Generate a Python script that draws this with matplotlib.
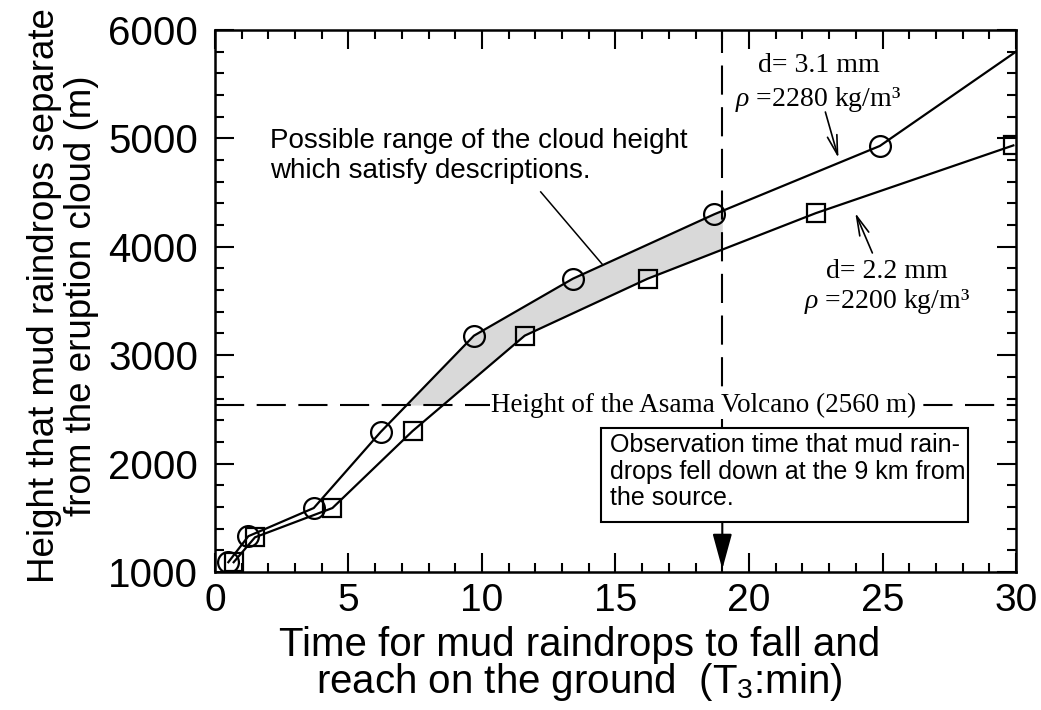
import numpy as np
import matplotlib.pyplot as plt
from matplotlib.patches import Rectangle

plt.rcParams['font.family'] = ['Liberation Sans', 'DejaVu Sans']
plt.rcParams['mathtext.fontset'] = 'custom'
plt.rcParams['mathtext.rm'] = 'Liberation Sans'
plt.rcParams['mathtext.it'] = 'Liberation Serif:italic'

# d = 3.1 mm, rho = 2280 kg/m3 (circles); last point is the line end, no marker
circle_t = [0.5, 1.25, 3.7, 6.2, 9.7, 13.4, 18.7, 24.9, 30.0]
circle_h = [1090, 1330, 1590, 2290, 3180, 3705, 4300, 4930, 5800]

# d = 2.2 mm, rho = 2200 kg/m3 (squares)
square_t = [0.7, 1.5, 4.4, 7.4, 11.6, 16.2, 22.5, 29.9]
square_h = [1090, 1320, 1590, 2300, 3180, 3705, 4310, 4935]

asama_h = 2540      # drawn height of the Asama Volcano line
obs_time = 19.0     # observation time (min)

SERIF = ['Liberation Serif', 'DejaVu Serif']

fig = plt.figure(figsize=(10.41, 7.10), dpi=100)
ax = fig.add_axes([0.2065, 0.1944, 0.7695, 0.7634])
ax.set_xlim(0, 30)
ax.set_ylim(1000, 6000)

# shaded range between the curves, above the volcano and before the observation time
tt = np.linspace(0, obs_time, 400)
upper = np.interp(tt, circle_t, circle_h)
lower = np.maximum(np.interp(tt, square_t, square_h), asama_h)
ax.fill_between(tt, lower, upper, where=upper > lower, color='#d9d9d9', lw=0, zorder=1)

ax.plot(circle_t, circle_h, color='k', lw=1.6, marker='o', ms=15, mfc='none',
        mec='k', mew=1.6, markevery=list(range(len(circle_t) - 1)), zorder=3)
ax.plot(square_t, square_h, color='k', lw=1.6, marker='s', ms=13, mfc='none',
        mec='k', mew=1.6, zorder=3)

# dashed reference lines
ax.plot([0, 30], [asama_h, asama_h], color='k', lw=1.5, dashes=(14, 6), zorder=2)
ax.plot([obs_time, obs_time], [2328, 6000], color='k', lw=1.5, dashes=(14, 6), zorder=2)
ax.text(18.3, asama_h, 'Height of the Asama Volcano (2560 m)', family=SERIF, fontsize=19.5,
        ha='center', va='center', zorder=4,
        bbox=dict(facecolor='white', edgecolor='none', pad=1))

# observation box with arrow to the axis
ax.add_patch(Rectangle((14.45, 1460), 13.75, 868, facecolor='white', edgecolor='k',
                       lw=1.5, zorder=5))
ax.text(14.8, 2285, 'Observation time that mud rain-\ndrops fell down at the 9 km from\nthe source.',
        fontsize=18, ha='left', va='top', linespacing=1.15, zorder=6)
ax.annotate('', xy=(obs_time, 1025), xytext=(obs_time, 1460),
            arrowprops=dict(arrowstyle='-|>,head_length=2.2,head_width=0.6', color='k',
                            lw=1.5, shrinkA=0, shrinkB=0, mutation_scale=10), zorder=6)

# range note
ax.text(2.05, 5095, 'Possible range of the cloud height\nwhich satisfy descriptions.',
        fontsize=20, ha='left', va='top', linespacing=1.2)
ax.plot([12.2, 14.5], [4506, 3840], color='k', lw=1.1)

# curve labels
ax.text(22.6, 5613, 'd= 3.1 mm', family=SERIF, fontsize=20, ha='center', va='baseline')
ax.text(22.6, 5300, r'$\rho$ =2280 kg/m³', family=SERIF, fontsize=20, ha='center', va='baseline')
ax.annotate('', xy=(23.35, 4819), xytext=(22.86, 5243),
            arrowprops=dict(arrowstyle='->,head_length=1.4,head_width=0.35', color='k',
                            lw=1.2, shrinkA=0, shrinkB=0, mutation_scale=10))
ax.text(25.15, 3712, 'd= 2.2 mm', family=SERIF, fontsize=20, ha='center', va='baseline')
ax.text(25.15, 3435, r'$\rho$ =2200 kg/m³', family=SERIF, fontsize=20, ha='center', va='baseline')
ax.annotate('', xy=(23.98, 4312), xytext=(24.62, 3943),
            arrowprops=dict(arrowstyle='->,head_length=1.4,head_width=0.35', color='k',
                            lw=1.2, shrinkA=0, shrinkB=0, mutation_scale=10))

# axes styling
ax.set_xticks(np.arange(0, 31, 5))
ax.set_xticks(np.arange(0, 31, 1), minor=True)
ax.set_yticks(np.arange(1000, 6001, 1000))
ax.set_yticks(np.arange(1000, 6001, 200), minor=True)
ax.tick_params(which='both', direction='in', top=True, right=True, width=1.5)
ax.tick_params(which='major', length=13.5)
ax.tick_params(which='minor', length=6.5)
ax.tick_params(axis='x', labelsize=28, pad=8)
ax.tick_params(axis='y', labelsize=29, pad=12)
for sp in ax.spines.values():
    sp.set_linewidth(1.8)

ax.set_xlabel('Time for mud raindrops to fall and\nreach on the ground  (T$_3$:min)',
              fontsize=29, linespacing=0.9)
ax.xaxis.set_label_coords(0.455, -0.1)
ax.set_ylabel('Height that mud raindrops separate\nfrom the eruption cloud (m)',
              fontsize=26.5, linespacing=1.05)
ax.yaxis.set_label_coords(-0.145, 0.51)

fig.savefig('out.png', dpi=100)
